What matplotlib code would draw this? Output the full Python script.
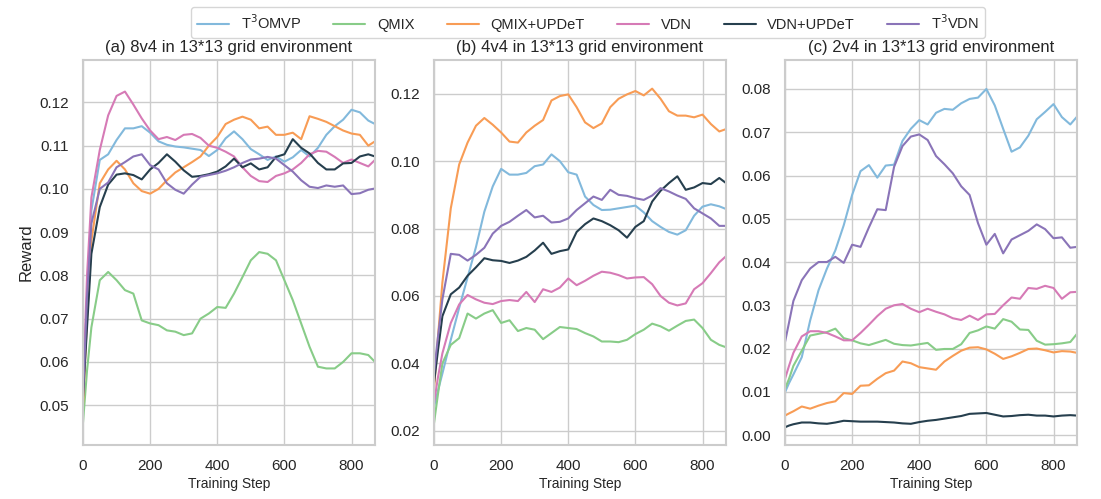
import matplotlib
matplotlib.use("Agg")
import matplotlib.pyplot as plt
import seaborn as sns

sns.set_theme(style="whitegrid")
plt.rcParams['font.family'] = ['Liberation Sans', 'DejaVu Sans']

steps = [0, 12, 25, 50, 75, 100, 125, 150, 175, 200, 225, 250, 275, 300, 325, 350,
         375, 400, 425, 450, 475, 500, 525, 550, 575, 600, 625, 650, 675, 700, 725,
         750, 775, 800, 825, 850, 870]

methods = ["T$^3$OMVP", "QMIX", "QMIX+UPDeT", "VDN", "VDN+UPDeT", "T$^3$VDN"]
colors = ["#82b9dc", "#88cc88", "#f89c55", "#d67ab6", "#263f4e", "#8a74b8"]

titles = ["(a) 8v4 in 13*13 grid environment",
          "(b) 4v4 in 13*13 grid environment",
          "(c) 2v4 in 13*13 grid environment"]

# ---- panel (a) 8v4 ----
a_t3omvp = [0.052, 0.075, 0.095, 0.1067, 0.108, 0.1113, 0.1140, 0.1140, 0.1145, 0.1130, 0.1110,
            0.1102, 0.1098, 0.1096, 0.1093, 0.1090, 0.1076, 0.1090, 0.1117, 0.1133, 0.1115, 0.1092,
            0.1080, 0.1067, 0.1075, 0.1063, 0.1073, 0.1090, 0.1075, 0.1095, 0.1125, 0.1145, 0.1160,
            0.1183, 0.1177, 0.1158, 0.1150]
a_qmix = [0.046, 0.058, 0.068, 0.0789, 0.0808, 0.0789, 0.0766, 0.0758, 0.0696, 0.0689, 0.0685,
          0.0673, 0.0670, 0.0662, 0.0666, 0.0700, 0.0712, 0.0727, 0.0725, 0.0758, 0.0796, 0.0835,
          0.0854, 0.0850, 0.0835, 0.0789, 0.0743, 0.0689, 0.0635, 0.0589, 0.0585, 0.0585, 0.0600,
          0.0620, 0.0620, 0.0616, 0.0600]
a_qmix_updet = [0.050, 0.070, 0.088, 0.1013, 0.1045, 0.1065, 0.1045, 0.1013, 0.0995, 0.0989, 0.1000,
                0.1020, 0.1038, 0.1050, 0.1062, 0.1075, 0.1100, 0.1120, 0.1150, 0.1160, 0.1167, 0.1160,
                0.1140, 0.1144, 0.1125, 0.1125, 0.1130, 0.1115, 0.1168, 0.1162, 0.1155, 0.1145, 0.1135,
                0.1128, 0.1125, 0.1100, 0.1110]
a_vdn = [0.053, 0.080, 0.098, 0.1090, 0.1170, 0.1215, 0.1225, 0.1195, 0.1163, 0.1135, 0.1115,
         0.1120, 0.1113, 0.1125, 0.1127, 0.1118, 0.1100, 0.1095, 0.1086, 0.1075, 0.1050, 0.1030,
         0.1018, 0.1016, 0.1030, 0.1036, 0.1045, 0.1060, 0.1080, 0.1088, 0.1086, 0.1074, 0.1060,
         0.1068, 0.1060, 0.1052, 0.1067]
a_vdn_updet = [0.052, 0.068, 0.085, 0.0958, 0.1010, 0.1033, 0.1036, 0.1032, 0.1022, 0.1045, 0.1060,
               0.1080, 0.1063, 0.1043, 0.1028, 0.1030, 0.1034, 0.1040, 0.1052, 0.1070, 0.1050, 0.1059,
               0.1045, 0.1050, 0.1074, 0.1080, 0.1115, 0.1095, 0.1082, 0.1060, 0.1045, 0.1045, 0.1059,
               0.1060, 0.1075, 0.1080, 0.1075]
a_t3vdn = [0.052, 0.075, 0.092, 0.1000, 0.1015, 0.1050, 0.1062, 0.1075, 0.1080, 0.1055, 0.1045,
           0.1013, 0.0998, 0.0989, 0.1010, 0.1028, 0.1032, 0.1036, 0.1042, 0.1050, 0.1060, 0.1068,
           0.1070, 0.1074, 0.1070, 0.1055, 0.1040, 0.1020, 0.1005, 0.1002, 0.1008, 0.1005, 0.1008,
           0.0988, 0.0990, 0.0998, 0.1001]

# ---- panel (b) 4v4 ----
b_t3omvp = [0.0272, 0.032, 0.037, 0.047, 0.0565, 0.0655, 0.0745, 0.0850, 0.0925, 0.0977, 0.0960,
            0.0960, 0.0965, 0.0985, 0.0990, 0.1020, 0.1000, 0.0967, 0.0960, 0.0895, 0.0870, 0.0855,
            0.0856, 0.0860, 0.0864, 0.0868, 0.0848, 0.0822, 0.0805, 0.0790, 0.0782, 0.0795, 0.0838,
            0.0865, 0.0872, 0.0866, 0.0858]
b_qmix = [0.0223, 0.031, 0.040, 0.0455, 0.0475, 0.0548, 0.0533, 0.0548, 0.0558, 0.0520, 0.0528,
          0.0496, 0.0505, 0.0500, 0.0472, 0.0490, 0.0508, 0.0505, 0.0502, 0.0490, 0.0480, 0.0465,
          0.0465, 0.0463, 0.0470, 0.0487, 0.0500, 0.0518, 0.0510, 0.0497, 0.0512, 0.0526, 0.0530,
          0.0505, 0.0470, 0.0455, 0.0448]
b_qmix_updet = [0.0322, 0.048, 0.064, 0.086, 0.099, 0.1055, 0.1105, 0.1128, 0.1108, 0.1085, 0.1058,
                0.1055, 0.1085, 0.1105, 0.1122, 0.1180, 0.1193, 0.1198, 0.1160, 0.1115, 0.1098, 0.1112,
                0.1160, 0.1185, 0.1198, 0.1208, 0.1195, 0.1215, 0.1185, 0.1148, 0.1135, 0.1135, 0.1130,
                0.1138, 0.1110, 0.1088, 0.1095]
b_vdn = [0.0282, 0.036, 0.043, 0.052, 0.0575, 0.0603, 0.0590, 0.0580, 0.0576, 0.0585, 0.0588,
         0.0585, 0.0612, 0.0582, 0.0620, 0.0612, 0.0625, 0.0652, 0.0632, 0.0645, 0.0660, 0.0672,
         0.0669, 0.0662, 0.0652, 0.0655, 0.0656, 0.0635, 0.0600, 0.0580, 0.0572, 0.0578, 0.0620,
         0.0638, 0.0668, 0.0700, 0.0718]
b_vdn_updet = [0.0342, 0.044, 0.054, 0.0605, 0.0625, 0.0660, 0.0685, 0.0712, 0.0706, 0.0704, 0.0698,
               0.0705, 0.0716, 0.0735, 0.0758, 0.0725, 0.0733, 0.0738, 0.0790, 0.0813, 0.0830, 0.0822,
               0.0810, 0.0795, 0.0773, 0.0805, 0.0822, 0.0880, 0.0912, 0.0935, 0.0955, 0.0915, 0.0922,
               0.0935, 0.0932, 0.0950, 0.0935]
b_t3vdn = [0.0372, 0.048, 0.059, 0.0725, 0.0722, 0.0705, 0.0722, 0.0743, 0.0785, 0.0808, 0.0820,
           0.0838, 0.0855, 0.0833, 0.0838, 0.0818, 0.0820, 0.0830, 0.0855, 0.0875, 0.0895, 0.0885,
           0.0915, 0.0900, 0.0897, 0.0890, 0.0885, 0.0898, 0.0920, 0.0910, 0.0898, 0.0888, 0.0860,
           0.0845, 0.0830, 0.0808, 0.0808]

# ---- panel (c) 2v4 ----
c_t3omvp = [0.0099, 0.012, 0.014, 0.018, 0.0265, 0.0335, 0.0385, 0.0427, 0.0485, 0.0555, 0.0610,
            0.0624, 0.0595, 0.0623, 0.0625, 0.0680, 0.0708, 0.0728, 0.0718, 0.0745, 0.0754, 0.0752,
            0.0767, 0.0777, 0.0780, 0.0800, 0.0762, 0.0708, 0.0655, 0.0665, 0.0692, 0.0730, 0.0747,
            0.0765, 0.0735, 0.0718, 0.0736]
c_qmix = [0.0107, 0.013, 0.016, 0.0195, 0.0230, 0.0234, 0.0238, 0.0246, 0.0224, 0.0219, 0.0212,
          0.0208, 0.0214, 0.0220, 0.0211, 0.0208, 0.0207, 0.0210, 0.0213, 0.0197, 0.0199, 0.0199,
          0.0210, 0.0236, 0.0242, 0.0251, 0.0246, 0.0268, 0.0262, 0.0244, 0.0243, 0.0218, 0.0209,
          0.0210, 0.0212, 0.0215, 0.0234]
c_qmix_updet = [0.0045, 0.0050, 0.0055, 0.0066, 0.0061, 0.0068, 0.0074, 0.0078, 0.0097, 0.0095, 0.0114,
                0.0115, 0.0130, 0.0143, 0.0149, 0.0170, 0.0166, 0.0157, 0.0154, 0.0151, 0.0170, 0.0183,
                0.0195, 0.0202, 0.0203, 0.0198, 0.0188, 0.0176, 0.0182, 0.0190, 0.0199, 0.0200, 0.0196,
                0.0191, 0.0194, 0.0193, 0.0190]
c_vdn = [0.013, 0.016, 0.019, 0.0228, 0.0240, 0.0240, 0.0236, 0.0228, 0.0219, 0.0219, 0.0236,
         0.0255, 0.0275, 0.0292, 0.0300, 0.0303, 0.0292, 0.0284, 0.0292, 0.0285, 0.0279, 0.0270,
         0.0266, 0.0276, 0.0266, 0.0279, 0.0280, 0.0300, 0.0318, 0.0315, 0.0340, 0.0338, 0.0345,
         0.0340, 0.0315, 0.0330, 0.0331]
c_vdn_updet = [0.0018, 0.0022, 0.0025, 0.0029, 0.0029, 0.0027, 0.0026, 0.0029, 0.0033, 0.0032, 0.0031,
               0.0031, 0.0031, 0.0030, 0.0029, 0.0027, 0.0026, 0.0030, 0.0033, 0.0035, 0.0038, 0.0041,
               0.0044, 0.0049, 0.0050, 0.0051, 0.0047, 0.0043, 0.0044, 0.0046, 0.0047, 0.0045, 0.0045,
               0.0043, 0.0045, 0.0046, 0.0045]
c_t3vdn = [0.0215, 0.026, 0.031, 0.0358, 0.0385, 0.0400, 0.0400, 0.0412, 0.0398, 0.0440, 0.0435,
           0.0480, 0.0522, 0.0520, 0.0620, 0.0668, 0.0690, 0.0695, 0.0682, 0.0645, 0.0626, 0.0605,
           0.0575, 0.0555, 0.0490, 0.0440, 0.0465, 0.0420, 0.0452, 0.0462, 0.0472, 0.0487, 0.0476,
           0.0455, 0.0457, 0.0433, 0.0435]

panels = [
    [a_t3omvp, a_qmix, a_qmix_updet, a_vdn, a_vdn_updet, a_t3vdn],
    [b_t3omvp, b_qmix, b_qmix_updet, b_vdn, b_vdn_updet, b_t3vdn],
    [c_t3omvp, c_qmix, c_qmix_updet, c_vdn, c_vdn_updet, c_t3vdn],
]
ylims = [(0.0408, 0.1298), (0.0158, 0.1300), (-0.0023, 0.0867)]
yticks = [[0.05, 0.06, 0.07, 0.08, 0.09, 0.10, 0.11, 0.12],
          [0.02, 0.04, 0.06, 0.08, 0.10, 0.12],
          [0.00, 0.01, 0.02, 0.03, 0.04, 0.05, 0.06, 0.07, 0.08]]
xticks = [0, 200, 400, 600, 800]

W, H = 1101, 499
fig = plt.figure(figsize=(W / 100, H / 100), dpi=100)
lefts = [83, 434, 785]
axw = 292
top_px, bot_px = 60, 445

handles = []
for i, series in enumerate(panels):
    ax = fig.add_axes([lefts[i] / W, 1 - bot_px / H, axw / W, (bot_px - top_px) / H])
    for j, ys in enumerate(series):
        ln, = ax.plot(steps, ys, color=colors[j], lw=1.5, label=methods[j])
        if i == 0:
            handles.append(ln)
    ax.set_xlim(0, 870)
    ax.set_ylim(*ylims[i])
    ax.set_xticks(xticks)
    ax.set_yticks(yticks[i])
    ax.set_yticklabels([f"{v:.2f}" for v in yticks[i]])
    ax.tick_params(axis='both', labelsize=11, pad=4)
    ax.set_title(titles[i], fontsize=12, pad=6)
    ax.set_xlabel("Training Step", fontsize=10, labelpad=3)
    for s in ax.spines.values():
        s.set_color("#cccccc")
        s.set_linewidth(1.5)
    if i == 0:
        ax.set_ylabel("Reward", fontsize=12)

fig.legend(handles=handles, labels=methods, loc='upper center', ncol=6,
           bbox_to_anchor=(0.534, 1.0), fontsize=10.5, frameon=True,
           handlelength=2.2, columnspacing=2.2, borderpad=0.4)

fig.savefig("out.png", dpi=100)
